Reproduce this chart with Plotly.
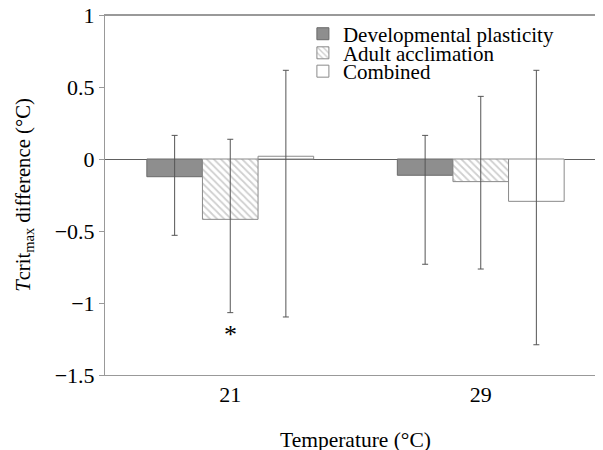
import plotly.graph_objects as go

categories = ["21", "29"]
series_names = ["Developmental plasticity", "Adult acclimation", "Combined"]
means = {
    "Developmental plasticity": [-0.123, -0.113],
    "Adult acclimation": [-0.419, -0.157],
    "Combined": [0.019, -0.294],
}
upper = {
    "Developmental plasticity": [0.164, 0.164],
    "Adult acclimation": [0.137, 0.435],
    "Combined": [0.616, 0.616],
}
lower = {
    "Developmental plasticity": [-0.530, -0.731],
    "Adult acclimation": [-1.067, -0.764],
    "Combined": [-1.097, -1.290],
}
y_ticks = [1, 0.5, 0, -0.5, -1, -1.5]
y_tick_labels = ["1", "0.5", "0", "\u22120.5", "\u22121", "\u22121.5"]

styles = {
    "Developmental plasticity": dict(color="#8e8e8e", line=dict(color="#6a6a6a", width=1)),
    "Adult acclimation": dict(color="white", line=dict(color="#8a8a8a", width=1),
                              pattern=dict(shape="\\", fgcolor="#a0a0a0", bgcolor="white",
                                           size=5, solidity=0.35)),
    "Combined": dict(color="white", line=dict(color="#8a8a8a", width=1)),
}
legend_ids = ["legend", "legend2", "legend3"]
legend_y = [0.947, 0.894, 0.843]

serif = "Liberation Serif"
xpos = list(range(len(categories)))
fig = go.Figure()
for name, lid in zip(series_names, legend_ids):
    m = means[name]
    fig.add_trace(go.Bar(
        x=xpos, y=m, name=name, marker=styles[name], legend=lid,
        error_y=dict(type="data", symmetric=False,
                     array=[u - v for u, v in zip(upper[name], m)],
                     arrayminus=[v - l for v, l in zip(m, lower[name])],
                     color="#555555", thickness=1, width=3),
    ))

fig.add_annotation(x=0, y=-1.19, text="*", showarrow=False, yshift=-4,
                   font=dict(family=serif, size=26, color="black"))

# top frame line of the plot area
fig.add_shape(type="line", xref="paper", yref="paper", x0=0, x1=1, y0=0.999, y1=0.999,
              line=dict(color="#999999", width=1.5), layer="above")

legend_common = dict(x=0.395, xanchor="left", yanchor="middle",
                     font=dict(family=serif, size=21, color="black"),
                     bgcolor="rgba(0,0,0,0)", itemwidth=30)
layout_legends = {lid: dict(legend_common, y=yy) for lid, yy in zip(legend_ids, legend_y)}

fig.update_layout(
    width=603, height=450,
    margin=dict(l=97, r=5, t=7, b=83),
    paper_bgcolor="white", plot_bgcolor="white",
    barmode="group", bargap=0.334, bargroupgap=0,
    font=dict(family=serif, size=20, color="black"),
    showlegend=True,
    xaxis=dict(range=[-0.5, 1.5], tickvals=xpos, ticktext=categories,
               showline=True, linecolor="#999999", linewidth=1, mirror=True,
               ticks="", showgrid=False, zeroline=False, automargin=False,
               ticklabelstandoff=0, ticklabeloverflow="allow",
               title=dict(text="Temperature (\u00b0C)", standoff=25, font=dict(size=21.5)),
               tickfont=dict(family=serif, size=22)),
    yaxis=dict(range=[-1.5, 1], tickvals=y_ticks, ticktext=y_tick_labels,
               showline=True, linecolor="#999999", linewidth=1,
               ticks="outside", ticklen=5, tickcolor="#999999", automargin=False,
               ticklabeloverflow="allow",
               showgrid=False, zeroline=True, zerolinecolor="#606060", zerolinewidth=1,
               title=dict(text="<i>T</i>crit<sub>max</sub> difference (\u00b0C)", standoff=18,
                          font=dict(size=20.7)),
               tickfont=dict(family=serif, size=22)),
    **layout_legends,
)

fig.write_html("out.html")
